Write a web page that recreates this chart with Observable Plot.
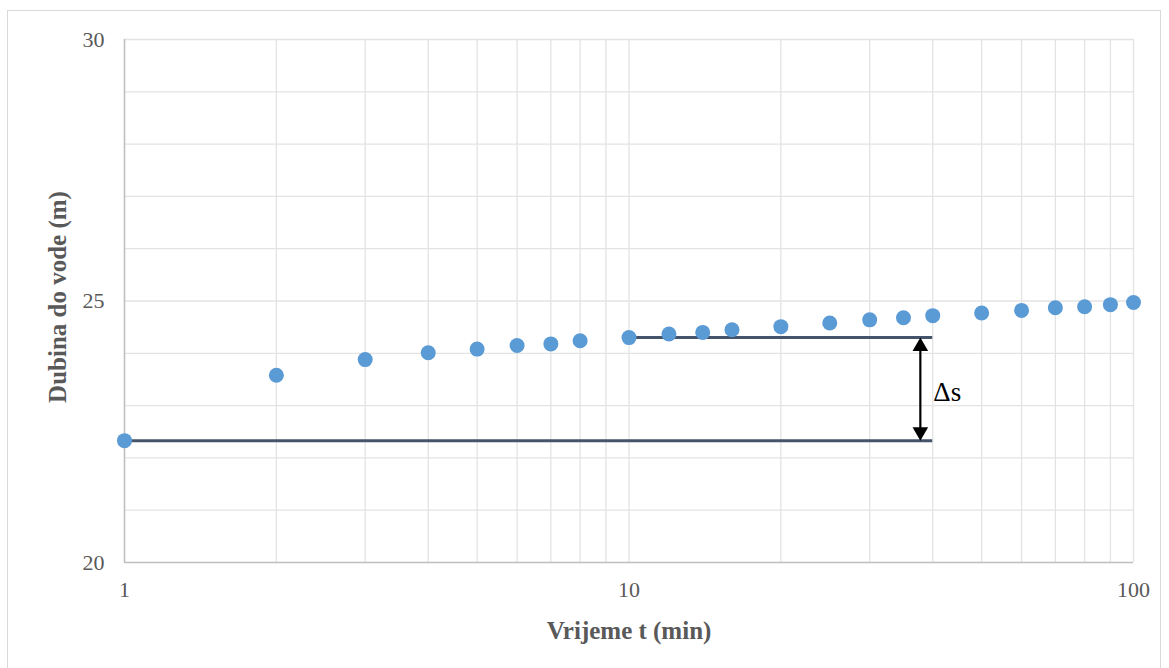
<!DOCTYPE html>
<html><head><meta charset="utf-8">
<script src="https://cdn.jsdelivr.net/npm/d3@7"></script>
<script src="https://cdn.jsdelivr.net/npm/@observablehq/plot@0.6"></script>
<style>
body{margin:0;background:#fff;}
#wrap{position:relative;width:1169px;height:668px;overflow:hidden;background:#fff;}
#border{position:absolute;left:7px;top:10px;width:1154px;height:690px;border:1px solid #d9d9d9;box-sizing:border-box;}
#chart{position:absolute;left:0;top:0;}
</style></head><body>
<div id="wrap"><div id="border"></div><div id="chart"></div></div>
<script>
// data
const times  = [1, 2, 3, 4, 5, 6, 7, 8, 10, 12, 14, 16, 20, 25, 30, 35, 40, 50, 60, 70, 80, 90, 100];
const depths = [22.33, 23.58, 23.88, 24.01, 24.08, 24.15, 24.18, 24.24, 24.30, 24.37, 24.40, 24.45, 24.51, 24.58, 24.64, 24.68, 24.72, 24.77, 24.82, 24.87, 24.89, 24.93, 24.97];

const xLabelTicks = [1, 10, 100];
const xGridTicks  = [1, 2, 3, 4, 5, 6, 7, 8, 9, 10, 20, 30, 40, 50, 60, 70, 80, 90, 100];
const yLabelTicks = [20, 25, 30];
const yGridTicks  = [21, 22, 23, 24, 25, 26, 27, 28, 29, 30];

// annotation lines
const levelNames  = ["base", "upper"];
const levelDepths = [22.33, 24.30];
const levelStarts = [1, 10];
const levelEnds   = [40, 40];
const arrowTime   = 37.8;
const deltaLabel  = "Δs";
const deltaDepth  = 23.26;

const xTitle = "Vrijeme t (min)";
const yTitle = "Dubina do vode (m)";

const points = times.map((t, i) => ({t, d: depths[i]}));
const levels = levelNames.map((n, i) => ({n, y: levelDepths[i], x1: levelStarts[i], x2: levelEnds[i]}));

const grey = "#595959";
const serif = "'Liberation Serif', 'Times New Roman', serif";

const chart = Plot.plot({
  width: 1169,
  height: 668,
  marginLeft: 124,
  marginRight: 36,
  marginTop: 39,
  marginBottom: 106,
  x: {type: "log", domain: [1, 100]},
  y: {domain: [20, 30]},
  style: {fontFamily: serif, background: "transparent", overflow: "visible"},
  marks: [
    Plot.gridX(xGridTicks, {stroke: "#e3e3e3", strokeOpacity: 1, strokeWidth: 1.3}),
    Plot.gridY(yGridTicks, {stroke: "#e3e3e3", strokeOpacity: 1, strokeWidth: 1.3}),
    Plot.ruleX([1], {stroke: "#bfbfbf", strokeWidth: 1.5}),
    Plot.ruleY([20], {stroke: "#bfbfbf", strokeWidth: 1.5}),
    Plot.axisX(xLabelTicks, {tickSize: 0, tickPadding: 19, fontSize: 22, fill: grey, label: null, tickFormat: d => String(d)}),
    Plot.axisY(yLabelTicks, {tickSize: 0, tickPadding: 20, fontSize: 22, fill: grey, label: null, tickFormat: d => String(d)}),
    Plot.text([xTitle], {frameAnchor: "bottom", dy: 68, lineAnchor: "middle", textAnchor: "middle", fontSize: 25, fontWeight: "bold", fill: grey}),
    Plot.text([yTitle], {frameAnchor: "left", dx: -67, dy: -4, rotate: -90, textAnchor: "middle", lineAnchor: "middle", fontSize: 25, fontWeight: "bold", fill: grey}),
    Plot.ruleY(levels, {y: "y", x1: "x1", x2: "x2", stroke: "#44546a", strokeWidth: 3}),
    Plot.ruleX([arrowTime], {y1: levelDepths[1], y2: levelDepths[0], stroke: "#000", strokeWidth: 2.2, insetTop: 12, insetBottom: 12}),
    Plot.dot([arrowTime], {x: d => d, y: () => levelDepths[1], symbol: "triangle", r: 5.8, fill: "#000", stroke: "none", dy: 9}),
    Plot.dot([arrowTime], {x: d => d, y: () => levelDepths[0], symbol: "triangle", r: 5.8, fill: "#000", stroke: "none", dy: -9, rotate: 180}),
    Plot.text([deltaLabel], {x: () => arrowTime, y: () => deltaDepth, dx: 13, textAnchor: "start", fontSize: 27, fill: "#000"}),
    Plot.dot(points, {x: "t", y: "d", r: 7.5, fill: "#5b9bd5", stroke: "none"})
  ]
});
document.getElementById("chart").appendChild(chart);
</script>
</body></html>
